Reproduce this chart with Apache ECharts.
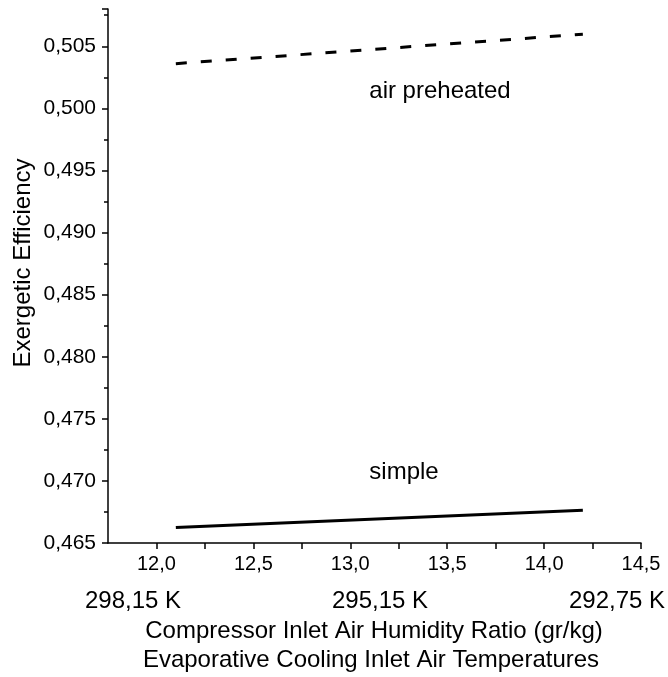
<!DOCTYPE html>
<html><head><meta charset="utf-8">
<script src="https://cdn.jsdelivr.net/npm/echarts@6/dist/echarts.min.js"></script>
<style>html,body{margin:0;padding:0;background:#fff}#c{width:668px;height:677px}</style>
</head><body><div id="c"></div>
<script>
const xSimple = [12.1, 14.2];
const ySimple = [0.46624, 0.46764];
const xPre = [12.1, 14.2];
const yPre = [0.5036, 0.50597];
const xTicks = [12, 12.5, 13, 13.5, 14, 14.5];
const tempLabels = ['298,15 K', '295,15 K', '292,75 K'];
const seriesNames = ['simple', 'air preheated'];
const xTitle = 'Compressor Inlet Air Humidity Ratio (gr/kg)';
const xTitle2 = 'Evaporative Cooling Inlet Air Temperatures';
const yTitle = 'Exergetic Efficiency';

const chart = echarts.init(document.getElementById('c'));
const font = '"Liberation Sans", Arial, sans-serif';
const blk = {color: '#000', width: 1.5};
chart.setOption({
  animation: false,
  grid: {left: 108, right: 27, top: 9, bottom: 134, containLabel: false},
  xAxis: {
    type: 'value', min: 11.75, max: 14.5,
    axisLine: {show: true, lineStyle: blk},
    axisLabel: {color: '#000', fontSize: 20, fontFamily: font, margin: 11,
      customValues: xTicks, formatter: v => v.toFixed(1).replace('.', ',')},
    axisTick: {show: true, length: 6, lineStyle: blk, customValues: xTicks.concat([12.25, 12.75, 13.25, 13.75, 14.25])},
    splitLine: {show: false}
  },
  yAxis: {
    type: 'value', min: 0.465, max: 0.508, interval: 0.005,
    axisLine: {show: true, lineStyle: blk},
    axisTick: {show: true, length: 6, lineStyle: blk},
    minorTick: {show: true, splitNumber: 2, length: 4, lineStyle: blk},
    splitLine: {show: false},
    axisLabel: {color: '#000', fontSize: 21, fontFamily: font, margin: 12,
      formatter: v => v > 0.5065 ? '' : v.toFixed(3).replace('.', ',')}
  },
  series: [
    {name: seriesNames[0], type: 'line', symbol: 'none',
     data: xSimple.map((x, i) => [x, ySimple[i]]),
     lineStyle: {color: '#000', width: 3, type: 'solid'}},
    {name: seriesNames[1], type: 'line', symbol: 'none',
     data: xPre.map((x, i) => [x, yPre[i]]),
     lineStyle: {color: '#000', width: 3, type: [11, 14]}}
  ],
  graphic: [
    {type: 'text', x: 133, y: 601, style: {text: tempLabels[0], fill: '#000', font: '24px ' + font, textAlign: 'center', textVerticalAlign: 'middle'}},
    {type: 'text', x: 380, y: 601, style: {text: tempLabels[1], fill: '#000', font: '24px ' + font, textAlign: 'center', textVerticalAlign: 'middle'}},
    {type: 'text', x: 617, y: 601, style: {text: tempLabels[2], fill: '#000', font: '24px ' + font, textAlign: 'center', textVerticalAlign: 'middle'}},
    {type: 'text', x: 374, y: 631, style: {text: xTitle, fill: '#000', font: '24px ' + font, textAlign: 'center', textVerticalAlign: 'middle'}},
    {type: 'text', x: 371, y: 660, style: {text: xTitle2, fill: '#000', font: '24px ' + font, textAlign: 'center', textVerticalAlign: 'middle'}},
    {type: 'text', x: 23, y: 263, rotation: Math.PI / 2, style: {text: yTitle, fill: '#000', font: '24px ' + font, textAlign: 'center', textVerticalAlign: 'middle'}},
    {type: 'text', x: 440, y: 91, style: {text: seriesNames[1], fill: '#000', font: '24px ' + font, textAlign: 'center', textVerticalAlign: 'middle'}},
    {type: 'text', x: 404, y: 472, style: {text: seriesNames[0], fill: '#000', font: '24px ' + font, textAlign: 'center', textVerticalAlign: 'middle'}}
  ]
});
</script></body></html>
